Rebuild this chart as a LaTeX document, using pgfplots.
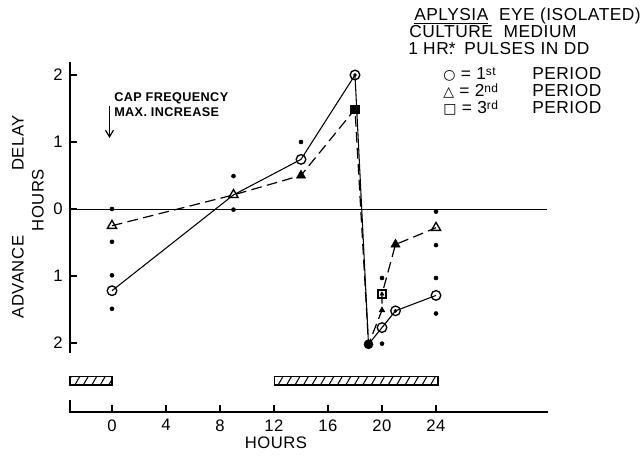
\documentclass[border=0pt]{standalone}
\usepackage{pgfplots}
\pgfplotsset{compat=1.18}
\usepackage{fontspec}
\setmainfont{Liberation Sans}[LetterSpace=3]
\newfontfamily\symfont{DejaVu Sans}
\usetikzlibrary{patterns.meta,arrows.meta}
\newcommand{\sups}[1]{\raisebox{3pt}{\fontsize{9}{9}\selectfont #1}}
\begin{document}
\begin{tikzpicture}
\begin{axis}[
  at={(0,0)}, anchor=south west,
  scale only axis, width=427.5pt, height=262.5pt,
  xmin=-3.11, xmax=39.11, ymin=-3.03, ymax=2.194,
  separate axis lines,
  axis x line*=bottom, axis y line*=left,
  axis line style={draw=none},
  tick align=inside,
  xtick={0,4,...,24}, ytick={-2,-1,0,1,2}, yticklabels={2,1,0,1,2},
  major tick length=5.5pt,
  tick style={black, line width=0.8pt},
  /pgf/number format/assume math mode=true,
  tick label style={font=\fontsize{12.5}{14}\selectfont},
  xticklabel style={yshift=-2pt},
  yticklabel style={xshift=-2pt},
  clip=false,
]
% axis lines drawn by hand (hand-drawn figure style)
\draw[line width=0.9pt] (axis cs:-3.11,-2.15) -- (axis cs:-3.11,2.19);
\draw[line width=0.9pt] (axis cs:-3.11,-2.85) -- (axis cs:-3.11,-3.03) -- (axis cs:32.3,-3.03);
\draw[line width=0.7pt] (axis cs:-3.11,0) -- (axis cs:32.2,0);

% hatched bars
\addplot[draw=black, line width=0.8pt, pattern={Lines[angle=60,distance=5.5pt,line width=0.8pt]}]
  coordinates {(-3.11,-2.507) (0,-2.507) (0,-2.627) (-3.11,-2.627)} -- cycle;
\addplot[draw=black, line width=0.8pt, pattern={Lines[angle=60,distance=5.5pt,line width=0.8pt]}]
  coordinates {(12.07,-2.507) (24.15,-2.507) (24.15,-2.627) (12.07,-2.627)} -- cycle;

% 1st period (solid)
\addplot[black, line width=0.8pt, no marks] coordinates {
  (0,-1.22) (9,0.21) (14,0.74) (18,2.0) (19,-2.02) (20,-1.77) (21,-1.52) (24,-1.29)};
% 2nd period (dashed)
\addplot[black, line width=0.9pt, no marks, dash pattern=on 8pt off 4pt] coordinates {
  (0,-0.25) (9,0.21) (14,0.5) (18,1.49) (19,-2.02) (20,-1.51) (20,-1.27) (21,-0.53) (24,-0.28)};

% individual values (dots)
\addplot[only marks, mark=*, mark size=1.5pt, black] coordinates {
  (0,0) (0,-0.49) (0,-0.99) (0,-1.49) (9,0.49) (9,-0.01) (14,1.0)
  (20,-1.03) (20,-2.01) (24,-0.04) (24,-0.54) (24,-1.03) (24,-1.56)};

% open circles
\addplot[only marks, black, mark=o, mark size=3.6pt, mark options={fill=white, line width=1pt}] coordinates {
  (0,-1.22) (14,0.74) (20,-1.77) (24,-1.29) (18,2.0) (21,-1.52)};
\addplot[only marks, black, mark=*, mark size=1.2pt] coordinates {(18,2.0) (21,-1.52)};
% open triangles
\addplot[only marks, black, mark=triangle, mark size=4pt, mark options={fill=white, line width=1pt}] coordinates {
  (0,-0.25) (9,0.21) (24,-0.28)};
% filled triangles
\addplot[only marks, black, mark=triangle*, mark size=4pt] coordinates {(14,0.5) (21,-0.53)};
\addplot[only marks, black, mark=triangle*, mark size=2.4pt] coordinates {(20,-1.51)};
% squares
\addplot[only marks, black, mark=square*, mark size=3.2pt] coordinates {(18,1.49)};
\addplot[only marks, black, mark=square, mark size=3pt, mark options={fill=white, line width=1pt}] coordinates {(20,-1.27)};
\addplot[only marks, black, mark=triangle*, mark size=1.7pt] coordinates {(20,-1.27)};
% overlapping points
\addplot[only marks, black, mark=*, mark size=3.4pt] coordinates {(19,-2.02)};
\end{axis}

\begin{scope}[x=0.75pt,y=-0.75pt,shift={(-52.5pt,309pt)}]
\tikzset{lab/.style={font=\fontsize{12.5}{14}\selectfont, inner sep=0pt},
         leg/.style={font=\fontsize{13}{15}\selectfont, inner sep=0pt, anchor=base west}}
\node[leg] at (414,21) {\underline{APLYSIA}\ \ EYE (ISOLATED)};
\node[leg] at (409,38) {CULTURE\ \ MEDIUM};
\node[leg] at (408,55) {1 HR\rlap{*}.\ \ PULSES\ IN\ DD};
\node[leg] at (443,80) {{\symfont\fontsize{10.5}{12}\selectfont ○} = 1\sups{st}};
\node[leg] at (443,97) {{\symfont\fontsize{10.5}{12}\selectfont △} = 2\sups{nd}};
\node[leg] at (443,114) {{\symfont\fontsize{10.5}{12}\selectfont □} = 3\sups{rd}};
\node[leg] at (532,80) {PERIOD};
\node[leg] at (532,97) {PERIOD};
\node[leg] at (532,114) {PERIOD};

\node[lab, rotate=90] at (18,143) {DELAY};
\node[lab, rotate=90] at (18,277) {ADVANCE};
\node[lab, rotate=90] at (38,200) {HOURS};
\node[lab] at (276,443) {HOURS};

\node[font=\fontsize{9.5}{11}\selectfont\bfseries, anchor=base west, inner sep=0pt] at (114,101.5) {CAP FREQUENCY};
\node[font=\fontsize{9.5}{11}\selectfont\bfseries, anchor=base west, inner sep=0pt] at (114,116.5) {MAX. INCREASE};
\draw[line width=0.9pt, -{Straight Barb[length=5pt,width=6pt]}] (109.5,106) -- (109.5,138);

\pgfresetboundingbox
\path[use as bounding box] (0,0) rectangle (640,456);
\end{scope}
\end{tikzpicture}
\end{document}
